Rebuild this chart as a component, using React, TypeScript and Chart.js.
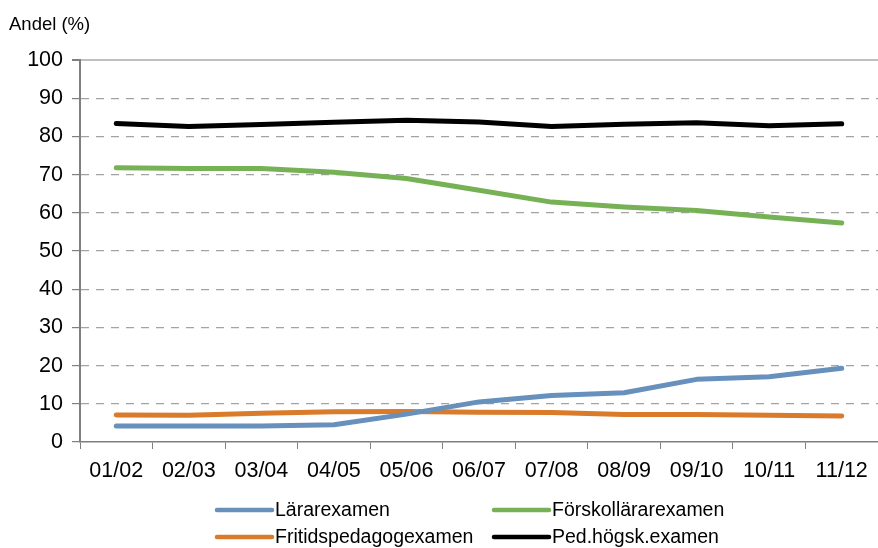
import React, { useEffect, useRef } from "react";
import { Chart, registerables } from "chart.js";

Chart.register(...registerables);

const categories = ["01/02", "02/03", "03/04", "04/05", "05/06", "06/07", "07/08", "08/09", "09/10", "10/11", "11/12"];
const lararexamen = [4.2, 4.2, 4.2, 4.5, 7.3, 10.5, 12.2, 12.9, 16.4, 17.1, 19.3];
const forskollararexamen = [71.8, 71.6, 71.6, 70.6, 69.0, 65.9, 62.8, 61.5, 60.6, 58.9, 57.3];
const fritidspedagogexamen = [7.1, 7.0, 7.5, 7.9, 8.0, 7.8, 7.7, 7.2, 7.2, 7.0, 6.8];
const pedHogskExamen = [83.4, 82.6, 83.1, 83.7, 84.2, 83.8, 82.6, 83.2, 83.6, 82.8, 83.3];
const seriesNames = ["Lärarexamen", "Förskollärarexamen", "Fritidspedagogexamen", "Ped.högsk.examen"];
const seriesColors = ["#6790BD", "#76B255", "#D97B2A", "#000000"];
const yTicks = [0, 10, 20, 30, 40, 50, 60, 70, 80, 90, 100];
const yAxisTitle = "Andel (%)";

const FONT = "'Liberation Sans', Arial, sans-serif";

const customDecor = {
  id: "customDecor",
  afterDraw(chart: any) {
    const ctx = chart.ctx;
    ctx.save();
    ctx.fillStyle = "#000";
    ctx.font = `18.5px ${FONT}`;
    ctx.textAlign = "left";
    ctx.textBaseline = "alphabetic";
    ctx.fillText(yAxisTitle, 9, 30);
    const cols = [217, 494];
    const rows = [510, 537];
    const sw = 55;
    chart.data.datasets.forEach((ds: any, i: number) => {
      const x = cols[i % 2];
      const y = rows[Math.floor(i / 2)];
      ctx.strokeStyle = ds.borderColor;
      ctx.lineWidth = 4.5;
      ctx.lineCap = "round";
      ctx.beginPath();
      ctx.moveTo(x, y);
      ctx.lineTo(x + sw, y);
      ctx.stroke();
      ctx.fillStyle = "#000";
      ctx.font = `19.5px ${FONT}`;
      ctx.textBaseline = "middle";
      ctx.fillText(ds.label, x + sw + 3, y + 1);
    });
    ctx.restore();
  },
};

export default function App() {
  const ref = useRef<HTMLCanvasElement>(null);
  useEffect(() => {
    if (!ref.current) return;
    const data = [lararexamen, forskollararexamen, fritidspedagogexamen, pedHogskExamen];
    const chart = new Chart(ref.current, {
      type: "line",
      data: {
        labels: categories,
        datasets: data.map((d, i) => ({
          label: seriesNames[i],
          data: d,
          borderColor: seriesColors[i],
          backgroundColor: seriesColors[i],
          borderWidth: 5,
          pointRadius: 0,
          tension: 0,
          borderCapStyle: "round" as const,
          borderJoinStyle: "round" as const,
        })),
      },
      options: {
        responsive: false,
        animation: false,
        layout: { padding: { top: 60, right: 0, left: 0, bottom: 0 } },
        plugins: { legend: { display: false }, tooltip: { enabled: false } },
        scales: {
          x: {
            type: "category",
            offset: true,
            grid: {
              offset: true,
              drawOnChartArea: false,
              drawTicks: true,
              tickLength: 7,
              tickColor: "#7f7f7f",
            },
            border: { display: true, color: "#7f7f7f", width: 1.5 },
            ticks: {
              color: "#000",
              font: { family: FONT, size: 21.5 },
              padding: 9,
              maxRotation: 0,
              autoSkip: false,
            },
            afterFit: (s: any) => {
              s.height = 106;
            },
          },
          y: {
            min: 0,
            max: 100,
            afterBuildTicks: (s: any) => {
              s.ticks = yTicks.map((v) => ({ value: v }));
            },
            grid: {
              drawTicks: true,
              tickLength: 8,
              tickColor: "#7f7f7f",
              color: (c: any) => (c.tick && c.tick.value === 100 ? "#c0c0c0" : c.tick && c.tick.value === 0 ? "rgba(0,0,0,0)" : "#a3a3a3"),
              lineWidth: (c: any) => (c.tick && c.tick.value === 100 ? 2 : 1.2),
            },
            border: {
              display: true,
              color: "#7f7f7f",
              width: 2,
              dash: (c: any) => (c.tick && c.tick.value === 100 ? [] : [8, 7]),
            },
            ticks: {
              color: "#000",
              font: { family: FONT, size: 21.5 },
              padding: 9,
            },
            afterFit: (s: any) => {
              s.width = 80;
            },
          },
        },
      },
      plugins: [customDecor],
    });
    return () => chart.destroy();
  }, []);
  return (
    <div style={{ position: "absolute", left: 0, top: 0, width: 878, height: 548, background: "#fff" }}>
      <canvas ref={ref} width={878} height={548} style={{ width: 878, height: 548, display: "block" }} />
    </div>
  );
}
